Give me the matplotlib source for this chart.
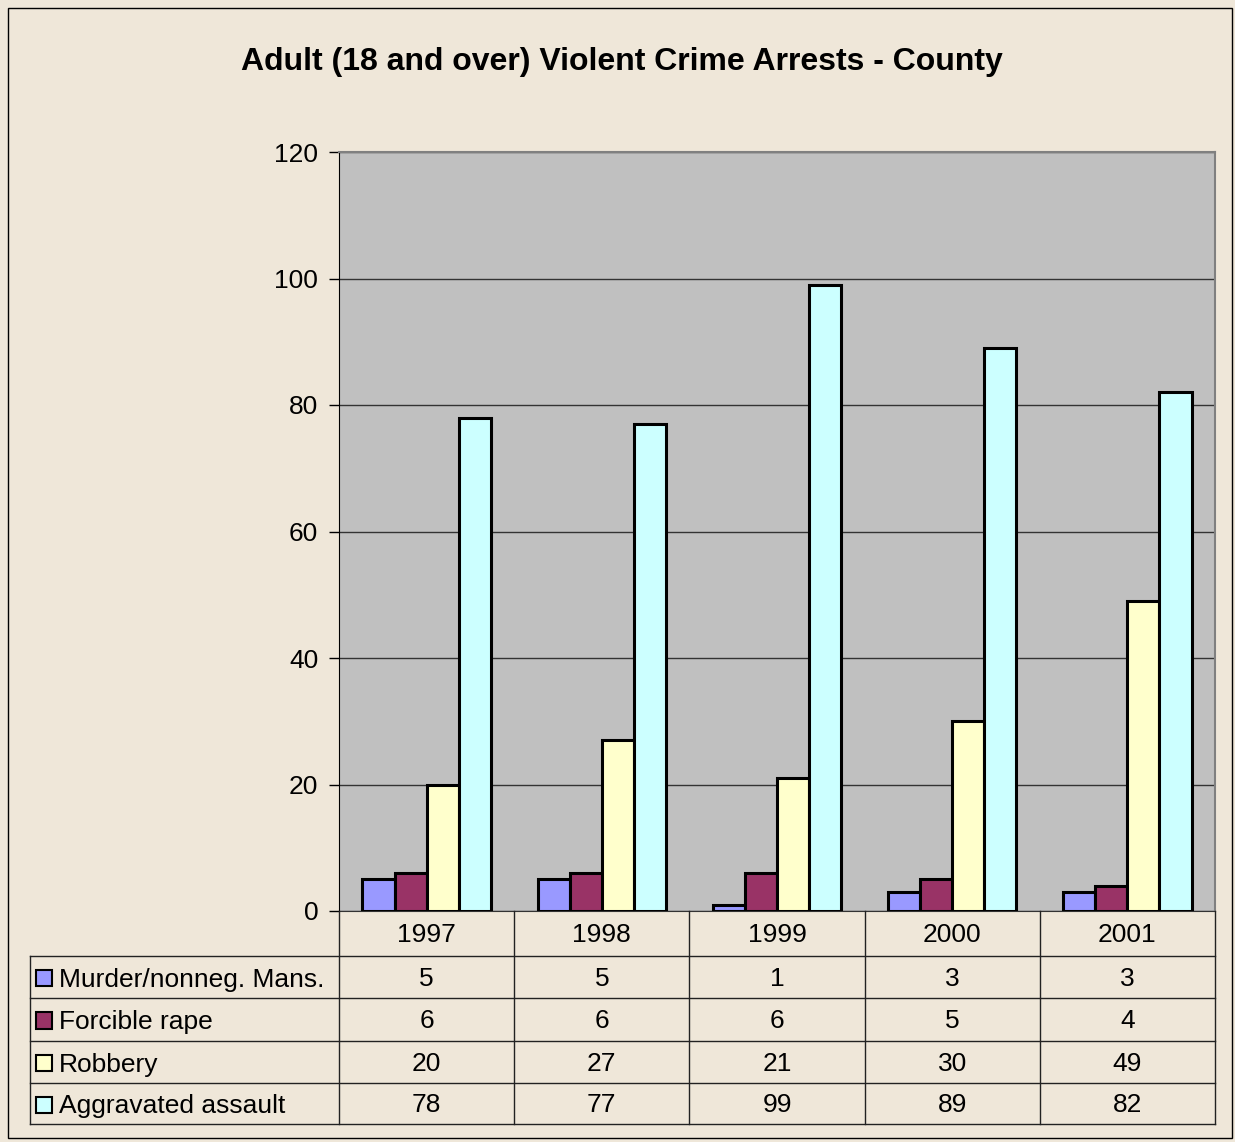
import matplotlib.pyplot as plt
import numpy as np
from matplotlib.patches import Rectangle
from matplotlib.lines import Line2D

plt.rcParams['font.family'] = ['Liberation Sans', 'DejaVu Sans']

years = ['1997', '1998', '1999', '2000', '2001']
series = ['Murder/nonneg. Mans.', 'Forcible rape', 'Robbery', 'Aggravated assault']
murder = [5, 5, 1, 3, 3]
rape = [6, 6, 6, 5, 4]
robbery = [20, 27, 21, 30, 49]
assault = [78, 77, 99, 89, 82]
values = [murder, rape, robbery, assault]
colors = ['#9999FF', '#993366', '#FFFFCC', '#CCFFFF']

W, H = 1235, 1142
bg = '#EFE7D9'
fig = plt.figure(figsize=(W / 100, H / 100), dpi=100, facecolor=bg)


def fx(x):
    return x / W


def fy(y):
    return 1 - y / H


# outer border
fig.add_artist(Rectangle((fx(8), fy(1138)), fx(1232) - fx(8), fy(8) - fy(1138),
                         fill=False, edgecolor='black', lw=1, transform=fig.transFigure))

fig.text(fx(622), fy(62), 'Adult (18 and over) Violent Crime Arrests - County',
         ha='center', va='center', fontsize=23, fontweight='bold')

left, right, top, bottom = 339, 1215, 152, 911
ax = fig.add_axes([fx(left), fy(bottom), fx(right) - fx(left), fy(top) - fy(bottom)])
ax.set_facecolor('#C0C0C0')

x = np.arange(len(years))
bw = 0.183
for i, (vals, c) in enumerate(zip(values, colors)):
    ax.bar(x + (i - 1.5) * bw, vals, width=bw, color=c, edgecolor='black', lw=2.2, zorder=3)

ax.set_xlim(-0.5, len(years) - 0.5)
ax.set_ylim(0, 120)
ax.set_yticks(np.arange(0, 121, 20))
ax.tick_params(axis='y', labelsize=19, length=7, width=1, direction='out', pad=8)
ax.set_xticks([])
ax.yaxis.grid(True, color='#333333', lw=1, zorder=1)
for s in ['top', 'right']:
    ax.spines[s].set_color('#808080')
    ax.spines[s].set_linewidth(1.5)
ax.spines['left'].set_color('black')
ax.spines['bottom'].set_color('#333333')

# data table below the axes
row_y = [911, 956, 998, 1041, 1083, 1124]
tl = 30
col_w = (right - left) / len(years)
line_kw = dict(color='#222222', lw=1, transform=fig.transFigure)

for yy in row_y[1:]:
    fig.add_artist(Line2D([fx(tl), fx(right)], [fy(yy), fy(yy)], **line_kw))
fig.add_artist(Line2D([fx(tl), fx(tl)], [fy(row_y[1]), fy(row_y[-1])], **line_kw))
for j in range(len(years) + 1):
    xx = left + j * col_w
    fig.add_artist(Line2D([fx(xx), fx(xx)], [fy(row_y[0]), fy(row_y[-1])], **line_kw))

for j, yr in enumerate(years):
    cx = left + (j + 0.5) * col_w
    fig.text(fx(cx), fy((row_y[0] + row_y[1]) / 2 + 2), yr, ha='center', va='center', fontsize=19)

for i, name in enumerate(series):
    cy = (row_y[i + 1] + row_y[i + 2]) / 2
    fig.add_artist(Rectangle((fx(36), fy(cy + 9)), fx(16), fy(0) - fy(16), facecolor=colors[i],
                             edgecolor='black', lw=1.5, transform=fig.transFigure))
    fig.text(fx(59), fy(cy + 3), name, ha='left', va='center', fontsize=19)
    for j in range(len(years)):
        cx = left + (j + 0.5) * col_w
        fig.text(fx(cx), fy(cy + 2), str(values[i][j]), ha='center', va='center', fontsize=19)

fig.savefig('out.png', dpi=100, facecolor=bg)
